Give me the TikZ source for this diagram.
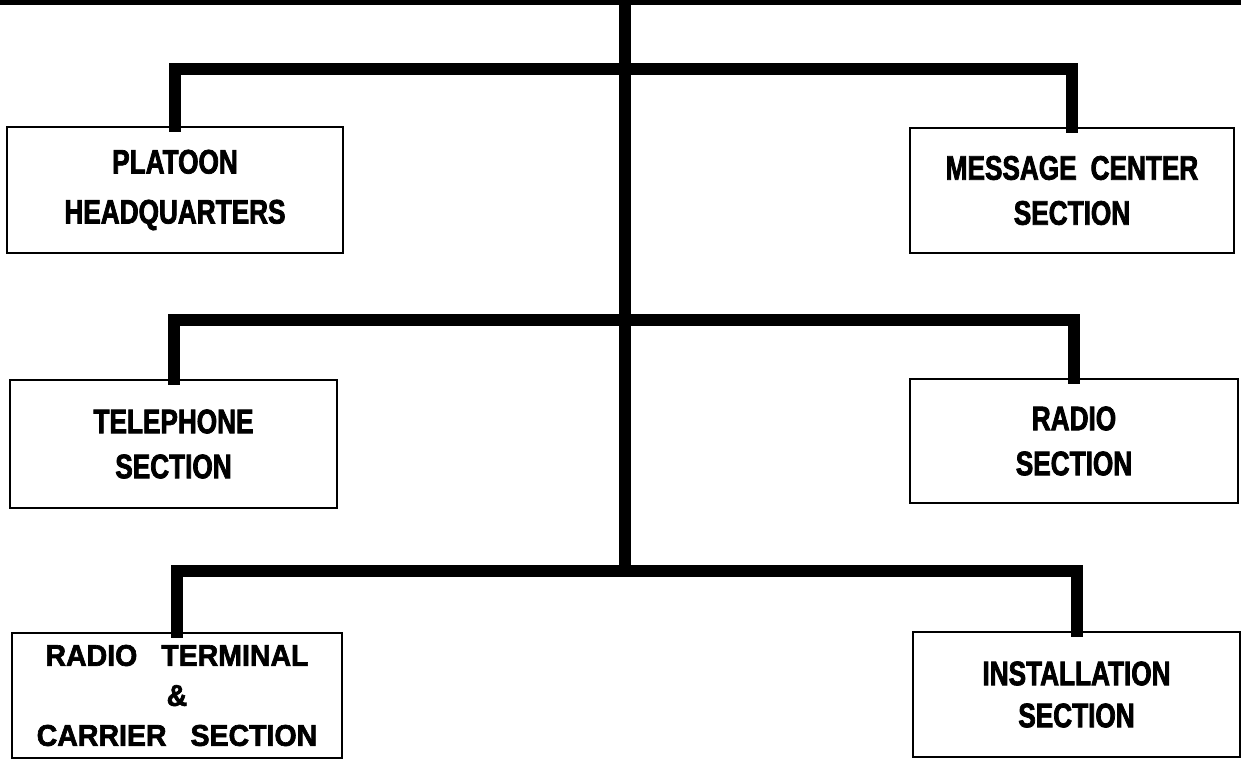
\documentclass[tikz,border=0pt]{standalone}
\usepackage{fontspec}
\newfontfamily\orgfont[FakeStretch=0.77,FakeBold=2.2]{Liberation Sans Bold}
\newfontfamily\orgwidefont[FakeStretch=0.95,FakeBold=2.2]{Liberation Sans Bold}
\begin{document}
\begin{tikzpicture}[x=1pt,y=-1pt,
  box/.style={draw=black, line width=2.6pt, inner sep=0pt, align=center, rectangle},
  lbl/.style={font=\orgfont\fontsize{34}{45}\selectfont},
  bus/.style={draw=black, line width=12pt, line join=miter, line cap=rect},
  topline/.style={draw=black, line width=5pt}]
\useasboundingbox (0,0) rectangle (1241,760);
\fill[white] (0,0) rectangle (1241,760);

% boxes
\node[box, minimum width=336pt, minimum height=126pt, font=\orgfont\fontsize{34}{50}\selectfont] (b1) at (175,190) {PLATOON\\HEADQUARTERS};
\node[box, lbl, minimum width=324pt, minimum height=125pt] (b2) at (1072,190.5) {MESSAGE\hspace{14pt}CENTER\\SECTION};
\node[box, lbl, minimum width=327pt, minimum height=128pt] (b3) at (173.5,444) {TELEPHONE\\SECTION};
\node[box, lbl, minimum width=328pt, minimum height=124pt] (b4) at (1074,441) {RADIO\\SECTION};
\node[box, minimum width=330pt, minimum height=125pt, font=\orgwidefont\fontsize{30}{40}\selectfont] (b5) at (177,695.5) {RADIO\hspace{24pt}TERMINAL\\\&\\CARRIER\hspace{24pt}SECTION};
\node[box, minimum width=327pt, minimum height=125pt, font=\orgfont\fontsize{34}{42}\selectfont] (b6) at (1076.5,694.5) {INSTALLATION\\SECTION};

% top line and trunk
\coordinate (tl) at (0,2.5);
\coordinate (tr) at (1241,2.5);
\draw[topline] (tl) -- (tr);
\coordinate (top) at (625,0);
\coordinate (j1) at (625,69);
\coordinate (j2) at (625,320);
\coordinate (j3) at (625,571);
\draw[bus, line cap=butt] (top) -- (j3);

% branches
\draw[bus] (b1.north) |- (j1) -| (b2.north);
\draw[bus] (b3.north) |- (j2) -| (b4.north);
\draw[bus] (b5.north) |- (j3) -| (b6.north);
\end{tikzpicture}
\end{document}
